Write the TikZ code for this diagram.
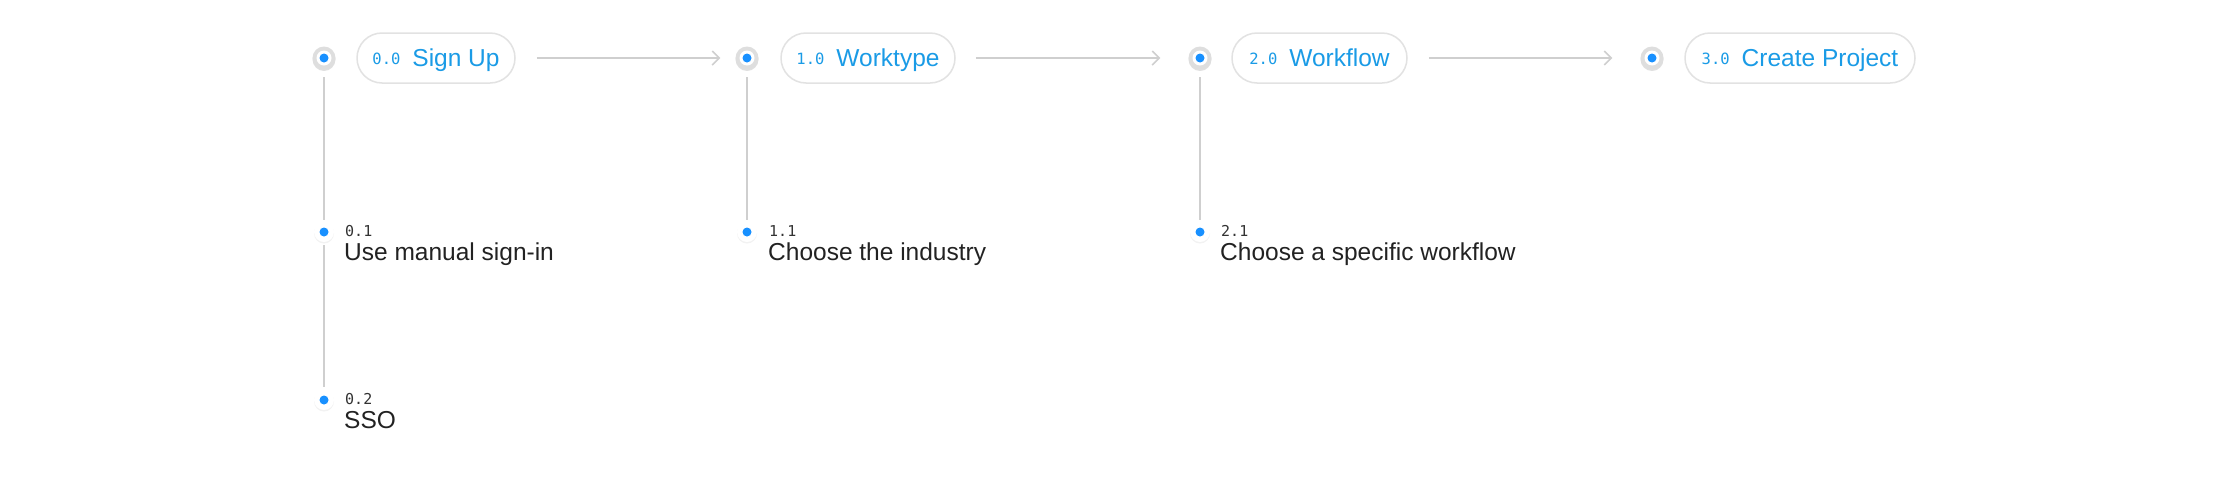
\documentclass[tikz,border=0pt]{standalone}
\usepackage{fontspec}
\setmainfont{Liberation Sans}
\newfontfamily\monof{DejaVu Sans Mono}
\usetikzlibrary{arrows.meta,shadows}
\definecolor{tblue}{HTML}{1A9BE6}
\definecolor{dotblue}{HTML}{1890FF}
\definecolor{pillgrey}{HTML}{E2E2E2}
\definecolor{linegrey}{HTML}{CFCFCF}
\definecolor{ringgrey}{HTML}{DEDEDE}
\definecolor{darktext}{HTML}{222222}
\definecolor{numtext}{HTML}{333333}
\newcommand{\pnum}[1]{\raisebox{2.2pt}{\monof\fontsize{15.5}{18}\selectfont #1}}
\begin{document}
\begin{tikzpicture}[x=1pt,y=-1pt,
  pill/.style={draw=pillgrey, line width=1.5pt, rounded corners=25pt, minimum height=50pt,
    text=tblue, font=\fontsize{24.5}{28}\selectfont, inner sep=0pt, text height=17.5pt, text depth=0pt},
  topdot/.style={circle, minimum size=23pt, inner sep=0pt, fill=ringgrey,
    drop shadow={shadow xshift=0pt, shadow yshift=-1.5pt, fill=black, opacity=0.12},
    path picture={\fill[white] (path picture bounding box.center) circle (7.5pt);
      \fill[dotblue] (path picture bounding box.center) circle (4.5pt);}},
  subdot/.style={circle, minimum size=20pt, inner sep=0pt, fill=white,
    drop shadow={shadow xshift=0pt, shadow yshift=-1.5pt, fill=black, opacity=0.05},
    path picture={\fill[dotblue] (path picture bounding box.center) circle (4.5pt);}},
  arr/.style={draw=linegrey, line width=1.5pt, -{Straight Barb[length=7pt,width=14pt]}},
  vline/.style={draw=linegrey, line width=1.6pt},
  subnum/.style={font=\monof\fontsize{15}{17}\selectfont, text=numtext, inner sep=0pt, anchor=base west},
  sublab/.style={font=\fontsize{24.5}{28}\selectfont, text=darktext, inner sep=0pt, anchor=base west}
]
\useasboundingbox[fill=white] (0,0) rectangle (2236,480);

% sub dots
\node[subdot] (s01) at (324,232) {};
\node[subdot] (s02) at (324,400) {};
\node[subdot] (s11) at (747,232) {};
\node[subdot] (s21) at (1200,232) {};

% top circles
\node[topdot] (c0) at (324,58) {};
\node[topdot] (c1) at (747,58) {};
\node[topdot] (c2) at (1200,58) {};
\node[topdot] (c3) at (1652,58) {};

% vertical lines
\draw[vline, shorten <=7.5pt, shorten >=2pt] (c0) -- (s01);
\draw[vline, shorten <=3pt, shorten >=3pt] (s01) -- (s02);
\draw[vline, shorten <=7.5pt, shorten >=2pt] (c1) -- (s11);
\draw[vline, shorten <=7.5pt, shorten >=2pt] (c2) -- (s21);

% pills
\node[pill, minimum width=158pt] (p0) at (436,58) {\pnum{0.0}\hspace{12pt}Sign Up};
\node[pill, minimum width=174pt] (p1) at (868,58) {\pnum{1.0}\hspace{12pt}Worktype};
\node[pill, minimum width=175pt] (p2) at (1319.5,58) {\pnum{2.0}\hspace{12pt}Workflow};
\node[pill, minimum width=230pt] (p3) at (1800,58) {\pnum{3.0}\hspace{12pt}Create Project};

% arrows
\draw[arr, shorten <=21pt, shorten >=15pt] (p0.east) -- (c1.west);
\draw[arr, shorten <=20pt, shorten >=28pt] (p1.east) -- (c2.west);
\draw[arr, shorten <=21pt, shorten >=28pt] (p2.east) -- (c3.west);

% sub texts
\node[subnum] (n01) at (345,236) {0.1};
\node[sublab] (l01) at (344,260) {Use manual sign-in};
\node[subnum] (n02) at (345,404) {0.2};
\node[sublab] (l02) at (344,428) {SSO};
\node[subnum] (n11) at (769,236) {1.1};
\node[sublab] (l11) at (768,260) {Choose the industry};
\node[subnum] (n21) at (1221,236) {2.1};
\node[sublab] (l21) at (1220,260) {Choose a specific workflow};
\end{tikzpicture}
\end{document}
